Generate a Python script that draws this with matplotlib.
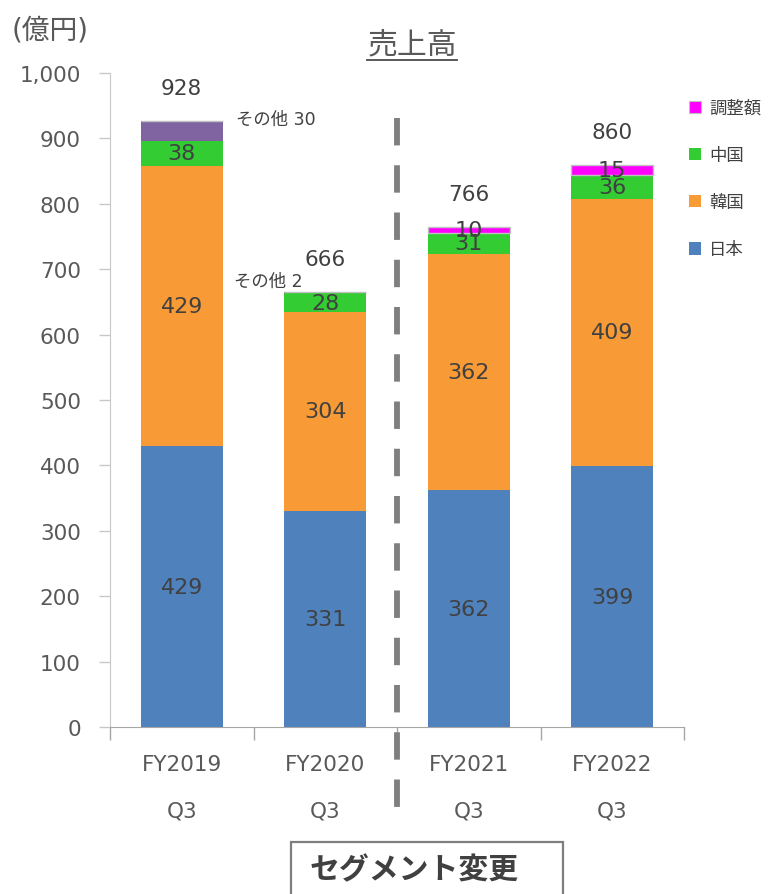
import matplotlib
matplotlib.use("Agg")
import matplotlib.pyplot as plt
from matplotlib.patches import Patch, Rectangle
from matplotlib.lines import Line2D
import matplotlib.transforms as mtransforms
import numpy as np

plt.rcParams['font.family'] = ['DejaVu Sans', 'Noto Sans CJK JP']

categories = ["FY2019", "FY2020", "FY2021", "FY2022"]
quarters = ["Q3", "Q3", "Q3", "Q3"]
japan = [429, 331, 362, 399]
korea = [429, 304, 362, 409]
china = [38, 28, 31, 36]
other = [30, 2, 0, 0]
adjust = [0, 0, 10, 15]
totals = [928, 666, 766, 860]
other_labels = ["その他 30", "その他 2", "", ""]
series_names = ["日本", "韓国", "中国", "その他", "調整額"]
yticks = [0, 100, 200, 300, 400, 500, 600, 700, 800, 900, 1000]

colors = {"日本": "#4F81BD", "韓国": "#F89A36", "中国": "#33CC33",
          "その他": "#8064A2", "調整額": "#FF00FF"}
TXT = "#404040"
TICK = "#595959"

W, H = 769, 895
fig = plt.figure(figsize=(W / 100, H / 100), dpi=100)
ax = fig.add_axes([110 / W, 1 - 728 / H, (684 - 110) / W, (728 - 74) / H])

x = np.arange(len(categories))
bw = 0.57
series = [japan, korea, china, other, adjust]
bottom = np.zeros(len(categories))
for name, vals in zip(series_names, series):
    vals = np.array(vals, dtype=float)
    ec = "#C0C0C0" if name == "調整額" else "none"
    lw = 1.0 if name == "調整額" else 0
    ax.bar(x, vals, bw, bottom=bottom, color=colors[name], edgecolor=ec,
           linewidth=lw, zorder=2)
    if name in ("日本", "韓国", "中国", "調整額"):
        for i, v in enumerate(vals):
            if v > 0:
                ax.text(x[i], bottom[i] + v / 2, f"{int(v)}", ha="center",
                        va="center", fontsize=16, color=TXT, zorder=3)
    bottom += vals

# totals
for i, t in enumerate(totals):
    ax.annotate(f"{t}", xy=(x[i], bottom[i]), xytext=(0, 33),
                textcoords="offset pixels", ha="center", va="center",
                fontsize=15.5, color=TXT, annotation_clip=False)

# その他 labels (offsets relative to each bar centre)
other_pos = [(0.376, 930), (-0.633, 682)]
for i, lab in enumerate(other_labels):
    if lab:
        px, py = other_pos[i]
        ax.text(x[i] + px, py, lab, ha="left", va="center", fontsize=12.5,
                color=TXT)

ax.set_xlim(-0.5, 3.5)
ax.set_ylim(0, 1000)
ax.set_yticks(yticks)
ax.set_yticklabels([f"{v:,}" for v in yticks], fontsize=15.5, color=TICK)
ax.tick_params(axis="y", length=8, width=1, color="#C8C8C8", pad=13)

ax.set_xticks(x)
ax.set_xticklabels([])
ax.tick_params(axis="x", which="major", length=0)
ax.set_xticks(np.arange(-0.5, 4.0, 1.0), minor=True)
ax.tick_params(axis="x", which="minor", length=9, width=1, color="#A6A6A6")

for i, (c, q) in enumerate(zip(categories, quarters)):
    ax.annotate(c, xy=(x[i], 0), xycoords=("data", "axes fraction"),
                xytext=(0, -37), textcoords="offset pixels", ha="center",
                va="center", fontsize=15.5, color=TICK, annotation_clip=False)
    ax.annotate(q, xy=(x[i], 0), xycoords=("data", "axes fraction"),
                xytext=(0, -83), textcoords="offset pixels", ha="center",
                va="center", fontsize=15.5, color=TICK, annotation_clip=False)

for s in ("top", "right"):
    ax.spines[s].set_visible(False)
ax.spines["left"].set_color("#C8C8C8")
ax.spines["bottom"].set_color("#A6A6A6")

# dashed separator
trans = mtransforms.blended_transform_factory(ax.transData, ax.transAxes)
ln = Line2D([1.5, 1.5], [(728 - 119) / 654, (728 - 822) / 654], transform=trans,
            color="#7F7F7F", linewidth=4.2, clip_on=False, zorder=5,
            solid_capstyle="butt", dash_capstyle="butt")
ln.set_dashes([4.7, 3.4])
ax.add_line(ln)

# legend
handles = [Patch(facecolor=colors["調整額"], edgecolor="#C0C0C0", linewidth=0.8),
           Patch(facecolor=colors["中国"], edgecolor="none"),
           Patch(facecolor=colors["韓国"], edgecolor="none"),
           Patch(facecolor=colors["日本"], edgecolor="none")]
labels = ["調整額", "中国", "韓国", "日本"]
fig.legend(handles, labels, loc="upper left",
           bbox_to_anchor=(689 / W, 1 - 100 / H), frameon=False,
           fontsize=12.5, labelcolor=TXT, handlelength=0.7, handleheight=0.7,
           handletextpad=0.45, labelspacing=1.68, borderpad=0,
           borderaxespad=0)

# units & title
fig.text(12 / W, 1 - 31 / H, "(億円)", fontsize=20, color=TICK, ha="left",
         va="center")
title = fig.text(412 / W, 1 - 45 / H, "売上高", fontsize=21.5, color=TICK,
                 ha="center", va="center")
fig.canvas.draw()
bb = title.get_window_extent()
fig.add_artist(Line2D([bb.x0 / W, bb.x1 / W],
                      [(bb.y0 - 1) / H, (bb.y0 - 1) / H],
                      transform=fig.transFigure, color=TICK, linewidth=1.4))

# segment change box
fig.add_artist(Rectangle((291 / W, -0.02), (563 - 291) / W, 0.02 + 1 - 843 / H,
                         transform=fig.transFigure, facecolor="white",
                         edgecolor="#7F7F7F", linewidth=1.6, clip_on=False))
fig.text(414 / W, 1 - 870 / H, "セグメント変更", fontsize=21.5, fontweight="bold",
         color=TXT, ha="center", va="center", family=["Noto Sans CJK JP"])

fig.savefig("out.png", dpi=100)
